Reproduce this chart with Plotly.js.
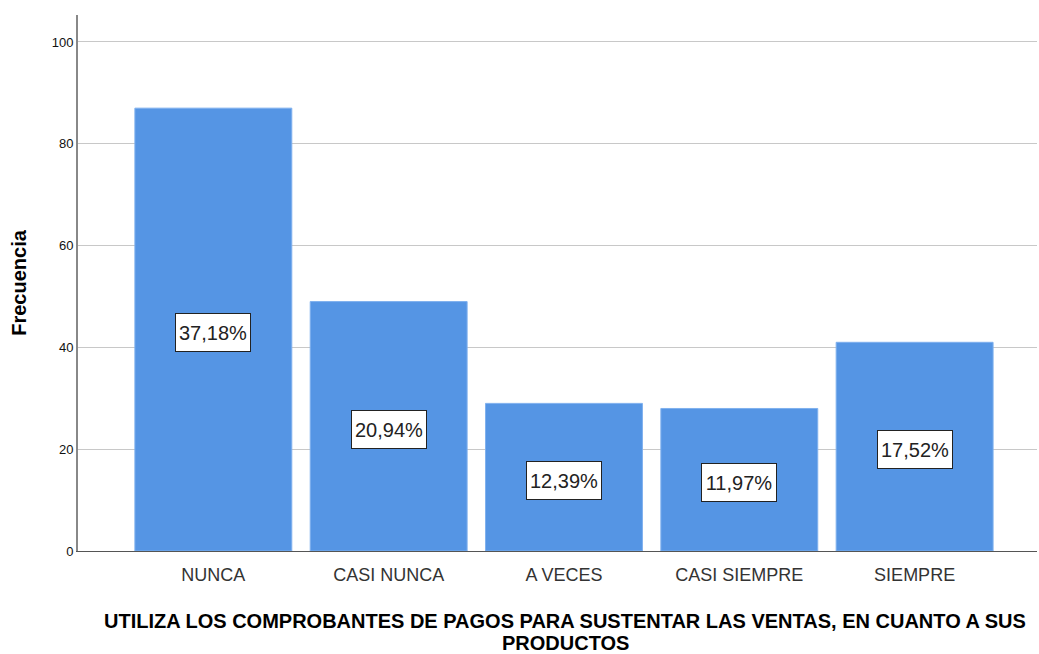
<!DOCTYPE html>
<html>
<head>
<meta charset="utf-8">
<script src="https://cdn.plot.ly/plotly-3.0.1.min.js"></script>
<style>html,body{margin:0;padding:0;background:#fff;}#chart{width:1039px;height:654px;}</style>
</head>
<body>
<div id="chart"></div>
<script>
const categories = ["NUNCA", "CASI NUNCA", "A VECES", "CASI SIEMPRE", "SIEMPRE"];
const frequencies = [87, 49, 29, 28, 41];
const percentLabels = ["37,18%", "20,94%", "12,39%", "11,97%", "17,52%"];
const yTickValues = [0, 20, 40, 60, 80, 100];
const xTitleLines = ["UTILIZA LOS COMPROBANTES DE PAGOS PARA SUSTENTAR LAS VENTAS, EN CUANTO A SUS", "PRODUCTOS"];

const trace = {
  type: "bar",
  x: categories,
  y: frequencies,
  marker: {color: "#5595E4", line: {color: "#7FB0EE", width: 1}},
  hoverinfo: "none"
};

const annotations = categories.map((c, i) => ({
  x: c,
  y: frequencies[i] / 2,
  yshift: -3,
  text: percentLabels[i],
  showarrow: false,
  width: 70,
  height: 33,
  bgcolor: "#ffffff",
  bordercolor: "#222222",
  borderwidth: 1,
  borderpad: 2,
  font: {family: "Liberation Sans, Arial, sans-serif", size: 20, color: "#222"}
}));

const titleY = [-0.1306, -0.1716];
xTitleLines.forEach((t, i) => annotations.push({
  xref: "paper", yref: "paper",
  x: 0.508, y: titleY[i],
  xanchor: "center", yanchor: "middle",
  text: "<b>" + t + "</b>",
  showarrow: false,
  font: {family: "Liberation Sans, Arial, sans-serif", size: 20, color: "#000"}
}));

const layout = {
  width: 1039, height: 654,
  margin: {l: 78, r: 2, t: 15, b: 103},
  paper_bgcolor: "#fff",
  plot_bgcolor: "#fff",
  showlegend: false,
  bargap: 0.105,
  xaxis: {
    range: [-0.772, 4.698],
    showline: true, linecolor: "#555", linewidth: 1,
    ticks: "", showgrid: false,
    tickfont: {family: "Liberation Sans, Arial, sans-serif", size: 18, color: "#333"},
    ticklabelstandoff: 7
  },
  yaxis: {
    range: [0, 105.3],
    tickvals: yTickValues,
    showline: true, linecolor: "#888", linewidth: 2,
    ticks: "", showgrid: true, gridcolor: "#c8c8c8", gridwidth: 1,
    zeroline: false,
    tickfont: {family: "Liberation Sans, Arial, sans-serif", size: 13, color: "#111"},
    title: {text: "<b>Frecuencia</b>", font: {family: "Liberation Sans, Arial, sans-serif", size: 20, color: "#000"}, standoff: 20}
  },
  annotations: annotations
};

Plotly.newPlot("chart", [trace], layout, {displayModeBar: false, staticPlot: true});
</script>
</body>
</html>
